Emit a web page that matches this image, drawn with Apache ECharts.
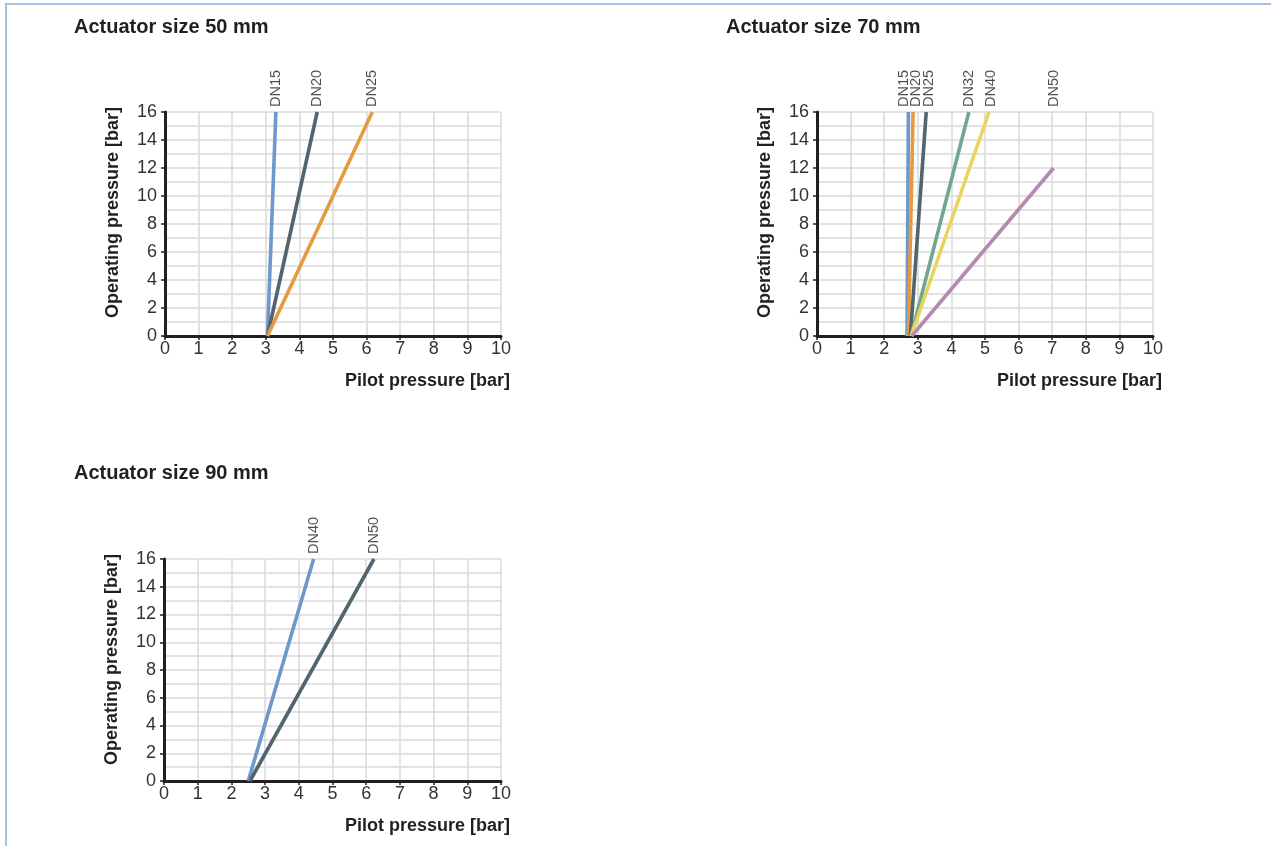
<!DOCTYPE html>
<html>
<head>
<meta charset="utf-8">
<title>Actuator pilot pressure</title>
<script src="https://cdn.jsdelivr.net/npm/echarts@6/dist/echarts.min.js"></script>
<style>
  html, body { margin: 0; padding: 0; background: #fff; }
  #frame { position: absolute; left: 5px; top: 3px; right: 0; bottom: 0;
           border-left: 2px solid #a6c1e3; border-top: 2px solid #a6c1e3; }
  #chart { position: absolute; left: 0; top: 0; width: 1271px; height: 846px; }
</style>
</head>
<body>
<div id="frame"></div>
<div id="chart"></div>
<script>
// Actuator size 50 mm
const names50 = ['DN15', 'DN20', 'DN25'];
const startX50 = [3.05, 3.05, 3.05];
const endX50 = [3.3, 4.53, 6.17];
const endY50 = [16, 16, 16];

// Actuator size 70 mm
const names70 = ['DN15', 'DN20', 'DN25', 'DN32', 'DN40', 'DN50'];
const startX70 = [2.68, 2.72, 2.78, 2.8, 2.8, 2.82];
const endX70 = [2.72, 2.86, 3.25, 4.52, 5.12, 7.04];
const endY70 = [16, 16, 16, 16, 16, 12];

// Actuator size 90 mm
const names90 = ['DN40', 'DN50'];
const startX90 = [2.5, 2.55];
const endX90 = [4.44, 6.23];
const endY90 = [16, 16];

const titles = ['Actuator size 50 mm', 'Actuator size 70 mm', 'Actuator size 90 mm'];

const colors = {
  blue: '#6d98cc', slate: '#52656e', orange: '#e59a42',
  green: '#6fa88c', yellow: '#e8d65c', mauve: '#b48bb0'
};
const colors50 = [colors.blue, colors.slate, colors.orange];
const colors70 = [colors.blue, colors.orange, colors.slate, colors.green, colors.yellow, colors.mauve];
const colors90 = [colors.blue, colors.slate];
// small sideways nudges so crowded labels don't overlap
const nudge70 = [-4, 3, 3, 0, 2, 0];

const FONT = '"Liberation Sans", Arial, Helvetica, sans-serif';
const INK = '#231f20';

const grids = [
  { left: 165, top: 112, width: 336, height: 224 },
  { left: 817, top: 112, width: 336, height: 224 },
  { left: 164, top: 559, width: 337, height: 222 }
];

const makeX = (i) => ({
  type: 'value', gridIndex: i, min: 0, max: 10, interval: 1,
  name: 'Pilot pressure [bar]', nameLocation: 'end', nameGap: 9,
  nameTextStyle: {
    fontFamily: FONT, fontSize: 18, fontWeight: 'bold', color: INK,
    align: 'right', verticalAlign: 'top', padding: [36, 0, 0, 0]
  },
  axisLine: { show: true, onZero: false, lineStyle: { color: INK, width: 3 } },
  axisTick: { show: true, length: 4, lineStyle: { color: INK, width: 1.5 } },
  axisLabel: { fontFamily: FONT, fontSize: 18, color: '#333', margin: 4 },
  splitLine: { show: true, lineStyle: { color: '#dadada', width: 1.5 } }
});

const makeY = (i) => ({
  type: 'value', gridIndex: i, min: 0, max: 16, interval: 2,
  name: 'Operating pressure [bar]', nameLocation: 'end', nameGap: 5, nameRotate: 90,
  nameTextStyle: {
    fontFamily: FONT, fontSize: 18, fontWeight: 'bold', color: INK,
    align: 'right', verticalAlign: 'bottom', padding: [0, 0, 43, 0]
  },
  axisLine: { show: true, onZero: false, lineStyle: { color: INK, width: 3 } },
  axisTick: { show: true, length: 4, lineStyle: { color: INK, width: 1.5 } },
  axisLabel: { fontFamily: FONT, fontSize: 18, color: '#333', margin: 8 },
  splitLine: { show: true, lineStyle: { color: '#dadada', width: 1.5 } },
  minorTick: { show: false, splitNumber: 2 },
  minorSplitLine: { show: true, lineStyle: { color: '#dadada', width: 1.5 } }
});

// one line per valve size, plus a label row along the top edge
const buildSeries = (gi, names, sx, ex, ey, cols, nudge) => {
  const lines = names.map((n, k) => ({
    name: n, type: 'line', xAxisIndex: gi, yAxisIndex: gi,
    data: [[sx[k], 0], [ex[k], ey[k]]],
    showSymbol: false, silent: true,
    lineStyle: { color: cols[k], width: 3.6 },
    z: 3
  }));
  const tags = {
    type: 'scatter', xAxisIndex: gi, yAxisIndex: gi, symbolSize: 0, silent: true,
    data: names.map((n, k) => ({
      name: n, value: [ex[k], 16],
      label: { offset: [0, nudge ? nudge[k] : 0] }
    })),
    label: {
      show: true, position: 'top', distance: 5, rotate: 90,
      align: 'left', verticalAlign: 'middle',
      formatter: (p) => p.name,
      fontFamily: FONT, fontSize: 14.5, color: INK
    }
  };
  return lines.concat([tags]);
};

const chart = echarts.init(document.getElementById('chart'), null, { renderer: 'canvas' });

chart.setOption({
  animation: false,
  title: [
    { text: titles[0], left: 74, top: 17 },
    { text: titles[1], left: 726, top: 17 },
    { text: titles[2], left: 74, top: 463 }
  ].map((t) => Object.assign(t, {
    padding: 0,
    textStyle: { fontFamily: FONT, fontSize: 20, fontWeight: 'bold', color: INK }
  })),
  grid: grids,
  xAxis: [makeX(0), makeX(1), makeX(2)],
  yAxis: [makeY(0), makeY(1), makeY(2)],
  series: [].concat(
    buildSeries(0, names50, startX50, endX50, endY50, colors50),
    buildSeries(1, names70, startX70, endX70, endY70, colors70, nudge70),
    buildSeries(2, names90, startX90, endX90, endY90, colors90)
  )
});
</script>
</body>
</html>
